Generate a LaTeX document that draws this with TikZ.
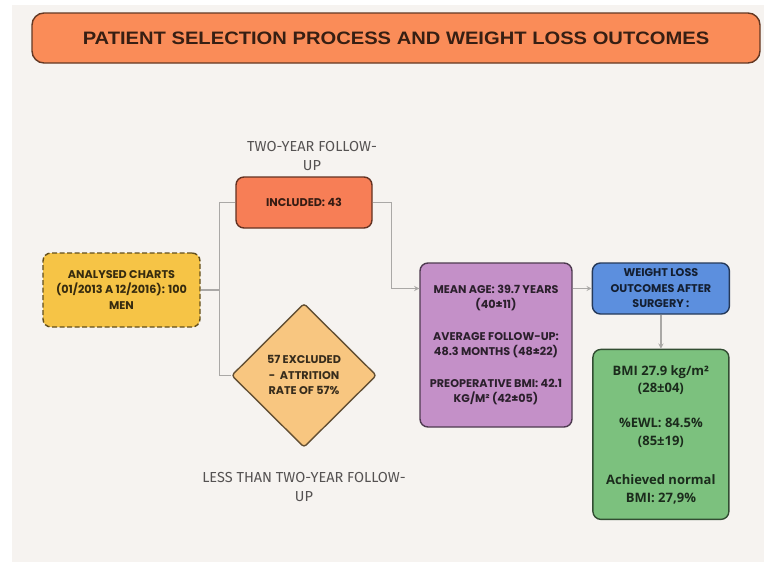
\documentclass[tikz,border=0pt]{standalone}
\usepackage{fontspec}
\setmainfont{Fira Sans}
\newfontfamily\titlefont[FakeStretch=1.12]{Liberation Sans}
\newfontfamily\boxfont{Poppins}
\newfontfamily\resfont{Open Sans}
\usepackage{tikz}
\usetikzlibrary{shapes.geometric,arrows,positioning}
\definecolor{pagebg}{RGB}{246,243,240}
\definecolor{titleorange}{RGB}{250,140,88}
\definecolor{chartyellow}{RGB}{246,196,70}
\definecolor{inclcoral}{RGB}{247,126,86}
\definecolor{exclorange}{RGB}{248,198,128}
\definecolor{statpurple}{RGB}{196,144,200}
\definecolor{outblue}{RGB}{92,143,222}
\definecolor{resgreen}{RGB}{124,193,126}
\definecolor{labelgray}{RGB}{85,82,82}
\definecolor{linegray}{RGB}{170,168,166}

\begin{document}
\begin{tikzpicture}[x=1pt, y=-1pt,
    stage/.style={rectangle, rounded corners=8pt, draw=#1!40!black, fill=#1,
                  line width=1.4pt, align=center, inner sep=0pt, text=#1!22!black,
                  font=\boxfont\fontsize{11.2}{15.5}\selectfont\bfseries},
    decision/.style={diamond, aspect=1, rounded corners=3pt, draw=#1!40!black, fill=#1,
                     line width=1.4pt, align=center, inner sep=0pt, text=#1!22!black,
                     font=\boxfont\fontsize{11.2}{15.5}\selectfont\bfseries},
    note/.style={align=center, text=labelgray, font=\fontsize{14.5}{19}\selectfont},
    line/.style={draw=linegray, line width=1.3pt},
    arrow/.style={line, ->, >=stealth},
    node distance=19pt
]
\useasboundingbox (0,0) rectangle (764,562);
\fill[white] (0,0) rectangle (764,562);
\fill[pagebg] (12,5) rectangle (764,562);

\node[stage=titleorange, minimum width=728pt, minimum height=50pt, rounded corners=12pt,
      font=\titlefont\fontsize{18}{20}\selectfont\bfseries] (title) at (396,38)
      {PATIENT SELECTION PROCESS AND WEIGHT LOSS OUTCOMES};

\node[stage=chartyellow, dash pattern=on 5pt off 2.5pt, minimum width=157pt, minimum height=74pt]
      (charts) at (121.5,290) {ANALYSED CHARTS\\(01/2013 A 12/2016): 100\\MEN};
\node[stage=inclcoral, minimum width=136pt, minimum height=51pt] (incl) at (304,202.5) {INCLUDED: 43};
\node[note, above=2pt of incl, xshift=8pt] (twoyr) {TWO-YEAR FOLLOW-\\UP};
\node[decision=exclorange, minimum width=145pt, minimum height=144pt, below=74pt of incl]
      (excl) {57 EXCLUDED\\- \ ATTRITION\\RATE OF 57\%};
\node[note, below=21pt of excl] (lesstwo) {LESS THAN TWO-YEAR FOLLOW-\\UP};

\node[stage=statpurple, minimum width=152pt, minimum height=164pt] (stats) at (496,345)
      {MEAN AGE: 39.7 YEARS\\(40±11)\\[16pt]AVERAGE FOLLOW-UP:\\48.3 MONTHS (48±22)\\[16pt]PREOPERATIVE BMI: 42.1\\KG/M² (42±05)};
\node[stage=outblue, minimum width=137pt, minimum height=51pt,
      right=19pt of stats.north east, anchor=north west] (outc)
      {WEIGHT LOSS\\OUTCOMES AFTER\\SURGERY :};
\node[stage=resgreen, minimum width=136pt, minimum height=170pt, below=34pt of outc,
      font=\resfont\fontsize{13}{17.5}\selectfont\bfseries] (res)
      {BMI 27.9 kg/m²\\(28±04)\\[17.5pt]\%EWL: 84.5\%\\(85±19)\\[22pt]Achieved normal\\BMI: 27,9\%};

% split of the charts
\draw[line] (charts.east) -- ++(19,0) coordinate (split);
\draw[line] (incl.west) -| (split) |- (excl.west);
% to the outcomes
\draw[arrow] (incl.east) -- ++(19,0) |- (stats.west |- outc.west);
\draw[arrow] (stats.east |- outc.west) -- (outc.west);
\draw[arrow] (outc) -- (res);
\end{tikzpicture}
\end{document}
